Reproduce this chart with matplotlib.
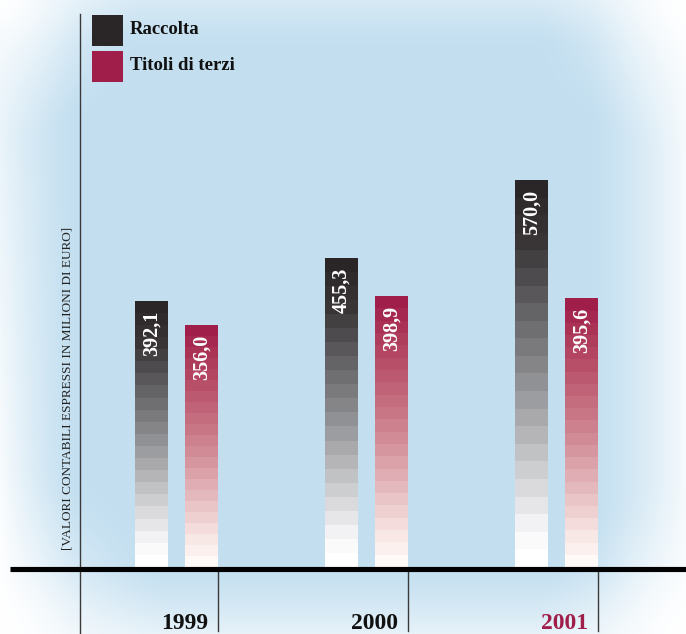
import numpy as np
import matplotlib
matplotlib.use("Agg")
import matplotlib.pyplot as plt
from matplotlib.colors import to_rgb
from matplotlib.patches import Rectangle

# data
years = ["1999", "2000", "2001"]
raccolta = [392.1, 455.3, 570.0]
titoli = [356.0, 398.9, 395.6]
labels_raccolta = ["392,1", "455,3", "570,0"]
labels_titoli = ["356,0", "398,9", "395,6"]

W, H = 686, 634
PX_X = 190.0      # pixels per group
PX_Y = 0.679      # pixels per unit of value
X0 = 176.5        # pixel x of first group centre
Y0 = 567.0        # pixel y of baseline (from top)

def xd(px):
    return (px - X0) / PX_X

def yd(py):
    return (Y0 - py) / PX_Y

SERIF = ["Liberation Serif", "DejaVu Serif"]
DARK = "#2a2627"
RED = "#a01e4a"

fig = plt.figure(figsize=(W / 100, H / 100), dpi=100)
ax = fig.add_axes([0, 0, 1, 1])
ax.set_xlim(xd(0), xd(W))
ax.set_ylim(yd(H), yd(0))
ax.axis("off")

# background: light blue with soft whitish vignette at the edges
yy, xx = np.mgrid[0:H, 0:W].astype(float)
def f(t):
    return np.clip(1 - t, 0, 1) ** 1.3
parts = [
    f(xx / 75) * (0.55 + 0.45 * yy / H),
    f((W - xx) / 95) * 0.85,
    f(yy / 45) * 0.35,
    f((H - yy) / 70) * 0.6,
    f(np.hypot(xx, yy) / 140),
    f(np.hypot(W - xx, yy) / 150),
    f(np.hypot(xx, H - yy) / 170),
    f(np.hypot(W - xx, H - yy) / 150),
]
keep = np.ones_like(xx)
for p in parts:
    keep *= 1 - np.clip(p, 0, 1)
w = 1 - keep
base = np.array(to_rgb("#c3dff0"))
img = base[None, None, :] * (1 - w[..., None]) + w[..., None]
ax.imshow(img, extent=(xd(0), xd(W), yd(H), yd(0)), aspect="auto", zorder=0)

def ramp(stops, t):
    pos = [s[0] for s in stops]
    cols = np.array([to_rgb(s[1]) for s in stops])
    return tuple(np.interp(t, pos, cols[:, k]) for k in range(3))

dark_stops = [(0, "#ffffff"), (0.08, "#f6f6f8"), (0.5, "#8a8b8e"), (0.85, "#3a3638"), (1, DARK)]
red_stops = [(0, "#fffaf7"), (0.1, "#f7e6e4"), (0.5, "#cf8591"), (0.85, "#af3d5c"), (1, RED)]

NB = 22
off = 25 / PX_X
bw = 33 / PX_X
x = np.arange(len(years))

def stepped_bar(xc, value, stops):
    h = value / NB
    for k in range(NB):
        ax.bar(xc, h, bottom=k * h, width=bw, color=ramp(stops, k / (NB - 1)),
               linewidth=0, zorder=2)

for i in range(len(years)):
    stepped_bar(x[i] - off, raccolta[i], dark_stops)
    stepped_bar(x[i] + off, titoli[i], red_stops)
    for xc, v, lab in [(x[i] - off, raccolta[i], labels_raccolta[i]),
                       (x[i] + off, titoli[i], labels_titoli[i])]:
        ax.annotate(lab, (xc, v), xytext=(0, -7), textcoords="offset points",
                    rotation=90, ha="center", va="top", color="white",
                    fontsize=14.5, fontweight="bold", family=SERIF, zorder=4)

# baseline and axis
ax.plot([xd(10), xd(W)], [yd(568.5)] * 2, color="black", lw=3.7,
        solid_capstyle="butt", zorder=5)
ax.plot([xd(80)] * 2, [yd(H), yd(14)], color="#3a3a3a", lw=1, zorder=3)
for i, yr in enumerate(years):
    sx = x[i] + off + bw / 2
    ax.plot([sx, sx], [yd(571), yd(631)], color="#3a3a3a", lw=1, zorder=3)
    ax.text(sx - 10 / PX_X, yd(629), yr, ha="right", va="baseline",
            fontsize=17, fontweight="bold", family=SERIF,
            color=RED if i == len(years) - 1 else "#111111", zorder=4)

ax.text(xd(68), yd(388), "[VALORI CONTABILI ESPRESSI IN MILIONI DI EURO]",
        rotation=90, ha="center", va="center", fontsize=9.5, family=SERIF,
        color="#222222", zorder=4)

# legend
for j, (name, col) in enumerate([("Raccolta", DARK), ("Titoli di terzi", RED)]):
    top = 15 + 36 * j
    ax.add_patch(Rectangle((92 / W, 1 - (top + 31) / H), 31 / W, 31 / H,
                           transform=ax.transAxes, color=col, lw=0, zorder=4))
    ax.text(130 / W, 1 - (top + 19.5) / H, name, transform=ax.transAxes,
            ha="left", va="baseline", fontsize=13.5, fontweight="bold",
            family=SERIF, color="#111111", zorder=4)

fig.savefig("out.png", dpi=100)
